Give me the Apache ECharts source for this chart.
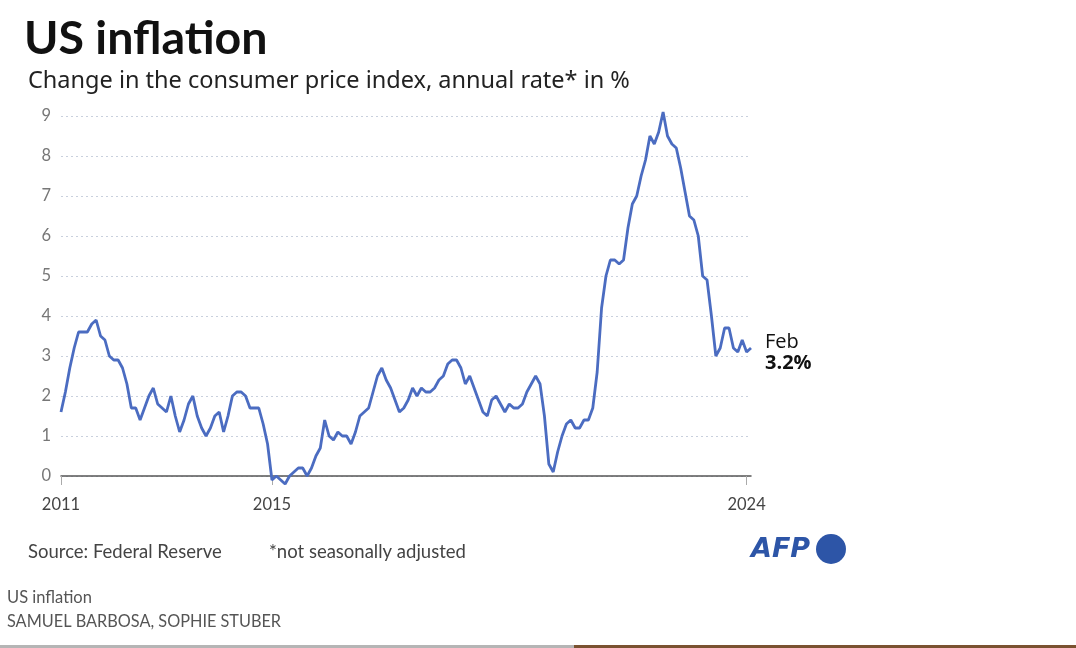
<!DOCTYPE html>
<html>
<head>
<meta charset="utf-8">
<title>US inflation</title>
<script src="https://cdn.jsdelivr.net/npm/echarts@6/dist/echarts.min.js"></script>
<style>
  html, body { margin: 0; padding: 0; background: #fff; }
  #main { width: 1076px; height: 648px; }
</style>
</head>
<body>
<div id="main"></div>
<script>
// monthly CPI change, annual rate in %, Jan 2011 .. Feb 2024
var years = [2011, 2012, 2013, 2014, 2015, 2016, 2017, 2018, 2019, 2020, 2021, 2022, 2023, 2024];
var cpi2011 = [1.6, 2.1, 2.7, 3.2, 3.6, 3.6, 3.6, 3.8, 3.9, 3.5, 3.4, 3.0];
var cpi2012 = [2.9, 2.9, 2.7, 2.3, 1.7, 1.7, 1.4, 1.7, 2.0, 2.2, 1.8, 1.7];
var cpi2013 = [1.6, 2.0, 1.5, 1.1, 1.4, 1.8, 2.0, 1.5, 1.2, 1.0, 1.2, 1.5];
var cpi2014 = [1.6, 1.1, 1.5, 2.0, 2.1, 2.1, 2.0, 1.7, 1.7, 1.7, 1.3, 0.8];
var cpi2015 = [-0.1, 0.0, -0.1, -0.2, 0.0, 0.1, 0.2, 0.2, 0.0, 0.2, 0.5, 0.7];
var cpi2016 = [1.4, 1.0, 0.9, 1.1, 1.0, 1.0, 0.8, 1.1, 1.5, 1.6, 1.7, 2.1];
var cpi2017 = [2.5, 2.7, 2.4, 2.2, 1.9, 1.6, 1.7, 1.9, 2.2, 2.0, 2.2, 2.1];
var cpi2018 = [2.1, 2.2, 2.4, 2.5, 2.8, 2.9, 2.9, 2.7, 2.3, 2.5, 2.2, 1.9];
var cpi2019 = [1.6, 1.5, 1.9, 2.0, 1.8, 1.6, 1.8, 1.7, 1.7, 1.8, 2.1, 2.3];
var cpi2020 = [2.5, 2.3, 1.5, 0.3, 0.1, 0.6, 1.0, 1.3, 1.4, 1.2, 1.2, 1.4];
var cpi2021 = [1.4, 1.7, 2.6, 4.2, 5.0, 5.4, 5.4, 5.3, 5.4, 6.2, 6.8, 7.0];
var cpi2022 = [7.5, 7.9, 8.5, 8.3, 8.6, 9.1, 8.5, 8.3, 8.2, 7.7, 7.1, 6.5];
var cpi2023 = [6.4, 6.0, 5.0, 4.9, 4.0, 3.0, 3.2, 3.7, 3.7, 3.2, 3.1, 3.4];
var cpi2024 = [3.1, 3.2];

var yTicks = [0, 1, 2, 3, 4, 5, 6, 7, 8, 9];
var xLabelYears = ['2011', '2015', '2024'];

var values = [].concat(cpi2011, cpi2012, cpi2013, cpi2014, cpi2015, cpi2016, cpi2017,
  cpi2018, cpi2019, cpi2020, cpi2021, cpi2022, cpi2023, cpi2024);

var months = [];
years.forEach(function (y) {
  for (var m = 1; m <= 12; m++) {
    if (months.length < values.length) months.push(y + '-' + (m < 10 ? '0' + m : m));
  }
});

// only Jan of the labelled years gets a tick + label
function isLabelled(idx, val) {
  return val.slice(5) === '01' && xLabelYears.indexOf(val.slice(0, 4)) >= 0;
}

var myChart = echarts.init(document.getElementById('main'));

var option = {
  backgroundColor: '#fff',
  animation: false,
  textStyle: { fontFamily: 'Lato' },
  title: [
    {
      text: 'US inflation',
      left: 19, top: 10,
      textStyle: { fontFamily: 'Lato', fontWeight: 'bold', fontSize: 46.5, color: '#111' }
    },
    {
      text: 'Change in the consumer price index, annual rate* in %',
      left: 23, top: 64,
      textStyle: { fontFamily: 'Noto Sans', fontWeight: 'normal', fontSize: 23.5, color: '#222' }
    }
  ],
  grid: { left: 61, right: 325, top: 116, bottom: 172, containLabel: false },
  xAxis: {
    type: 'category',
    data: months,
    boundaryGap: false,
    axisLine: { lineStyle: { color: '#555', width: 1.5 } },
    axisTick: {
      show: true, interval: isLabelled, length: 9,
      lineStyle: { color: '#aaa', width: 1 }
    },
    axisLabel: {
      interval: isLabelled,
      formatter: function (v) { return v.slice(0, 4); },
      color: '#444', fontSize: 16.5, margin: 20
    },
    splitLine: { show: false }
  },
  yAxis: {
    type: 'value',
    min: yTicks[0], max: yTicks[yTicks.length - 1], interval: 1,
    axisLine: { show: false },
    axisTick: { show: false },
    axisLabel: { color: '#777', fontSize: 16.5, margin: 10 },
    splitLine: { lineStyle: { color: '#c9d0dd', type: [2, 3], width: 1 } }
  },
  series: [
    {
      name: 'CPI',
      type: 'line',
      data: values,
      showSymbol: false,
      clip: false,
      lineStyle: { color: '#4b6cc1', width: 2.8 },
      endLabel: {
        show: true,
        distance: 14,
        offset: [0, 5],
        formatter: function (p) { return '{a|Feb}\n{b|' + p.value.toFixed(1) + '%}'; },
        rich: {
          a: { fontFamily: 'Open Sans', fontSize: 20, color: '#111', lineHeight: 21 },
          b: { fontFamily: 'Open Sans', fontSize: 20, fontWeight: 'bold', color: '#111', lineHeight: 21 }
        }
      }
    }
  ],
  graphic: [
    { type: 'text', left: 28, top: 543, style: { text: 'Source: Federal Reserve', fontFamily: 'Lato', fontSize: 18.5, fill: '#444' } },
    { type: 'text', left: 269, top: 543, style: { text: '*not seasonally adjusted', fontFamily: 'Lato', fontSize: 18.5, fill: '#444' } },
    { type: 'text', left: 751, top: 536, style: { text: 'AFP', fontFamily: 'DejaVu Sans', fontSize: 27, fontWeight: 'bold', fontStyle: 'italic', fill: '#2d55a7' } },
    { type: 'circle', shape: { cx: 831, cy: 549, r: 15 }, style: { fill: '#2d55a7' } },
    { type: 'text', left: 7, top: 589, style: { text: 'US inflation', fontFamily: 'Lato', fontSize: 16.5, fill: '#555' } },
    { type: 'text', left: 7, top: 614, style: { text: 'SAMUEL BARBOSA, SOPHIE STUBER', fontFamily: 'Lato', fontSize: 16.3, fill: '#555' } },
    { type: 'rect', shape: { x: 0, y: 645, width: 574, height: 3 }, style: { fill: '#b5b5b5' } },
    { type: 'rect', shape: { x: 574, y: 645, width: 502, height: 3 }, style: { fill: '#7a5230' } }
  ]
};

myChart.setOption(option);
</script>
</body>
</html>
